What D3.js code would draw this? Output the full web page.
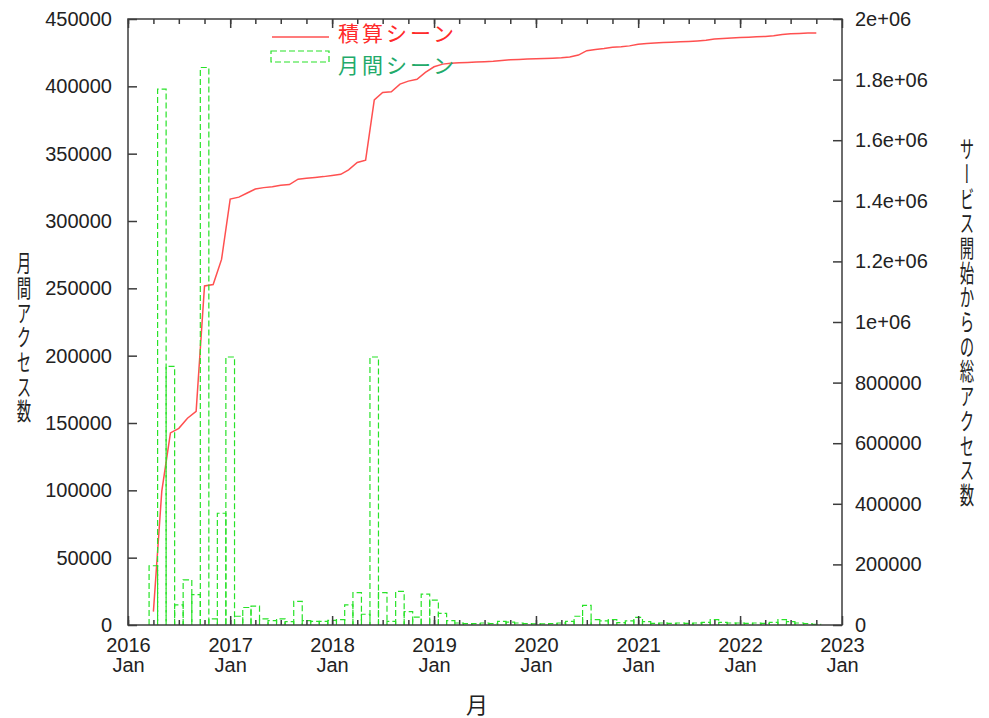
<!DOCTYPE html>
<html>
<head>
<meta charset="utf-8">
<script src="https://cdn.jsdelivr.net/npm/d3@7"></script>
<style>
  body { margin: 0; background: #fff; }
  svg { display: block; }
  .num { font-family: "Liberation Sans", Arial, sans-serif; font-size: 20px; fill: #222; }
  .jp { font-family: "Noto Sans CJK JP", sans-serif; }
</style>
</head>
<body>
<svg id="chart" width="989" height="718"></svg>
<script>
// monthly scenes
const months = [
  "2016-04", "2016-05", "2016-06", "2016-07", "2016-08", "2016-09", "2016-10", "2016-11", "2016-12",
  "2017-01", "2017-02", "2017-03", "2017-04", "2017-05", "2017-06", "2017-07", "2017-08", "2017-09", "2017-10", "2017-11", "2017-12",
  "2018-01", "2018-02", "2018-03", "2018-04", "2018-05", "2018-06", "2018-07", "2018-08", "2018-09", "2018-10", "2018-11", "2018-12",
  "2019-01", "2019-02", "2019-03", "2019-04", "2019-05", "2019-06", "2019-07", "2019-08", "2019-09", "2019-10", "2019-11", "2019-12",
  "2020-01", "2020-02", "2020-03", "2020-04", "2020-05", "2020-06", "2020-07", "2020-08", "2020-09", "2020-10", "2020-11", "2020-12",
  "2021-01", "2021-02", "2021-03", "2021-04", "2021-05", "2021-06", "2021-07", "2021-08", "2021-09", "2021-10", "2021-11", "2021-12",
  "2022-01", "2022-02", "2022-03", "2022-04", "2022-05", "2022-06", "2022-07", "2022-08", "2022-09", "2022-10"
];
const monthly_scenes = [
  44000, 398000, 192000, 15000, 33500, 22500, 414000, 4500, 83000,
  199000, 6500, 13000, 14000, 4500, 3200, 4500, 2500, 17500, 3200, 2700, 2700,
  3500, 4000, 15000, 24000, 8000, 199000, 24000, 2700, 25000, 10000, 5900, 23000,
  18500, 8700, 3200, 1500, 1000, 1000, 1500, 1000, 2700, 2200, 1500, 1000,
  800, 800, 1000, 1500, 2700, 6500, 14500, 4000, 3000, 4000, 1800, 3000,
  5700, 2500, 1200, 1500, 1200, 1500, 1200, 1500, 2000, 4000, 2000, 1500,
  1500, 1200, 1500, 1200, 2000, 4000, 2500, 1500, 1000, 500
];
// running total (right axis)
const total_scenes = [
  44000, 442000, 634000, 649000, 682500, 705000, 1119000, 1123500, 1206500,
  1405500, 1412000, 1425000, 1439000, 1443500, 1446700, 1451200, 1453700, 1471200, 1474400, 1477100, 1479800,
  1483300, 1487300, 1502300, 1526300, 1534300, 1733300, 1757300, 1760000, 1785000, 1795000, 1800900, 1823900,
  1842400, 1851100, 1854300, 1855800, 1856800, 1857800, 1859300, 1860300, 1863000, 1865200, 1866700, 1867700,
  1868500, 1869300, 1870300, 1871800, 1874500, 1881000, 1895500, 1899500, 1902500, 1906500, 1908300, 1911300,
  1917000, 1919500, 1920700, 1922200, 1923400, 1924900, 1926100, 1927600, 1929600, 1933600, 1935600, 1937100,
  1938600, 1939800, 1941300, 1942500, 1944500, 1948500, 1951000, 1952500, 1953500, 1954000
];

const left_ticks = [0, 50000, 100000, 150000, 200000, 250000, 300000, 350000, 400000, 450000];
const right_ticks = [0, 200000, 400000, 600000, 800000, 1000000, 1200000, 1400000, 1600000, 1800000, 2000000];
const right_tick_labels = ["0", "200000", "400000", "600000", "800000", "1e+06", "1.2e+06", "1.4e+06", "1.6e+06", "1.8e+06", "2e+06"];
const year_ticks = ["2016", "2017", "2018", "2019", "2020", "2021", "2022", "2023"];
const legend_labels = ["積算シーン", "月間シーン"];

const svg = d3.select("#chart");
const plot = { left: 128, right: 842, top: 19, bottom: 625 };
const parse = d3.timeParse("%Y-%m");
const dates = months.map(parse);
const year_dates = year_ticks.map((t) => parse(t + "-01"));

const x = d3.scaleTime()
  .domain([year_dates[0], year_dates[year_dates.length - 1]])
  .range([plot.left, plot.right]);
const y = d3.scaleLinear().domain([0, 450000]).range([plot.bottom, plot.top]);
const y2 = d3.scaleLinear().domain([0, 2000000]).range([plot.bottom, plot.top]);

const red = "#ff5050";
const green = "#28e228";
const tick_color = "#3c3c3c";

// cumulative line
const line = d3.line().x((d, i) => x(dates[i])).y((d) => y2(d));
svg.append("path")
  .datum(total_scenes)
  .attr("fill", "none")
  .attr("stroke", red)
  .attr("stroke-width", 1.5)
  .attr("d", line);

// monthly boxes, one month wide, centered on the month
svg.append("g")
  .selectAll("path")
  .data(monthly_scenes)
  .join("path")
  .attr("fill", "none")
  .attr("stroke", green)
  .attr("stroke-width", 1.2)
  .attr("stroke-dasharray", "6,3")
  .attr("d", (v, i) => {
    const d = dates[i];
    const cx = x(d);
    const x0 = (cx + x(d3.timeMonth.offset(d, -1))) / 2;
    const x1 = (cx + x(d3.timeMonth.offset(d, 1))) / 2;
    return `M${x0},${y(0)}V${y(v)}H${x1}V${y(0)}`;
  });

// x axis: yearly major ticks, quarterly minor ticks, top and bottom
const quarters = d3.timeMonth.every(3).range(year_dates[0], year_dates[year_dates.length - 1]);
function style_axis(g) {
  g.select(".domain").remove();
  g.selectAll(".tick line").attr("stroke", tick_color).attr("stroke-width", 1.5);
}
svg.append("g")
  .attr("transform", `translate(0,${plot.bottom})`)
  .call(d3.axisBottom(x).tickValues(quarters).tickSize(-5).tickFormat(""))
  .call(style_axis);
svg.append("g")
  .attr("transform", `translate(0,${plot.top})`)
  .call(d3.axisTop(x).tickValues(quarters).tickSize(-5).tickFormat(""))
  .call(style_axis);
svg.append("g")
  .attr("transform", `translate(0,${plot.top})`)
  .call(d3.axisTop(x).tickValues(year_dates).tickSize(-9).tickFormat(""))
  .call(style_axis);
const x_axis = svg.append("g")
  .attr("transform", `translate(0,${plot.bottom})`)
  .call(d3.axisBottom(x).tickValues(year_dates).tickSize(-9).tickFormat(""))
  .call(style_axis);
x_axis.selectAll(".tick text").remove();
x_axis.selectAll(".tick").each(function (d, i) {
  const t = d3.select(this).append("text").attr("class", "num").attr("text-anchor", "middle");
  t.append("tspan").attr("x", 0).attr("y", 27).text(year_ticks[i]);
  t.append("tspan").attr("x", 0).attr("y", 47).text("Jan");
});

// left axis
const y_axis = svg.append("g")
  .attr("transform", `translate(${plot.left},0)`)
  .call(d3.axisLeft(y).tickValues(left_ticks).tickSize(-9).tickPadding(16).tickFormat(d3.format("d")))
  .call(style_axis);
y_axis.selectAll(".tick text").attr("class", "num").attr("fill", null);
y_axis.attr("font-size", null).attr("font-family", null);

// right axis
const y2_axis = svg.append("g")
  .attr("transform", `translate(${plot.right},0)`)
  .call(d3.axisRight(y2).tickValues(right_ticks).tickSize(-9).tickPadding(13).tickFormat((d, i) => right_tick_labels[i]))
  .call(style_axis);
y2_axis.selectAll(".tick text").attr("class", "num").attr("fill", null);
y2_axis.attr("font-size", null).attr("font-family", null);

// frame
svg.append("rect")
  .attr("x", plot.left)
  .attr("y", plot.top)
  .attr("width", plot.right - plot.left)
  .attr("height", plot.bottom - plot.top)
  .attr("fill", "none")
  .attr("stroke", tick_color)
  .attr("stroke-width", 1.5);

// legend
const legend = svg.append("g").attr("class", "jp");
legend.append("line")
  .attr("x1", 272).attr("x2", 329).attr("y1", 37).attr("y2", 37)
  .attr("stroke", red).attr("stroke-width", 1.5);
legend.append("rect")
  .attr("x", 271).attr("y", 51).attr("width", 58).attr("height", 11)
  .attr("fill", "none").attr("stroke", green).attr("stroke-width", 1.2).attr("stroke-dasharray", "6,3");
legend.append("text")
  .attr("x", 338).attr("y", 32).attr("dominant-baseline", "central")
  .attr("font-size", 21).attr("letter-spacing", 3).attr("fill", "#ff2a2a")
  .text(legend_labels[0]);
legend.append("text")
  .attr("x", 338).attr("y", 64).attr("dominant-baseline", "central")
  .attr("font-size", 21).attr("letter-spacing", 3).attr("fill", "#22aa6a")
  .text(legend_labels[1]);

// axis titles
function vertical_title(cx, top, label) {
  svg.append("g")
    .attr("transform", `translate(${cx},${top}) scale(0.6,1)`)
    .append("text")
    .attr("class", "jp")
    .attr("font-size", 24)
    .attr("fill", "#222")
    .style("writing-mode", "vertical-rl")
    .style("text-orientation", "upright")
    .style("letter-spacing", "0.7px")
    .text(label);
}
vertical_title(24, 251, "月間アクセス数");
vertical_title(967, 137, "サービス開始からの総アクセス数");

svg.append("text")
  .attr("class", "jp")
  .attr("x", 477).attr("y", 703)
  .attr("text-anchor", "middle").attr("dominant-baseline", "central")
  .attr("font-size", 22).attr("fill", "#222")
  .text("月");
</script>
</body>
</html>
